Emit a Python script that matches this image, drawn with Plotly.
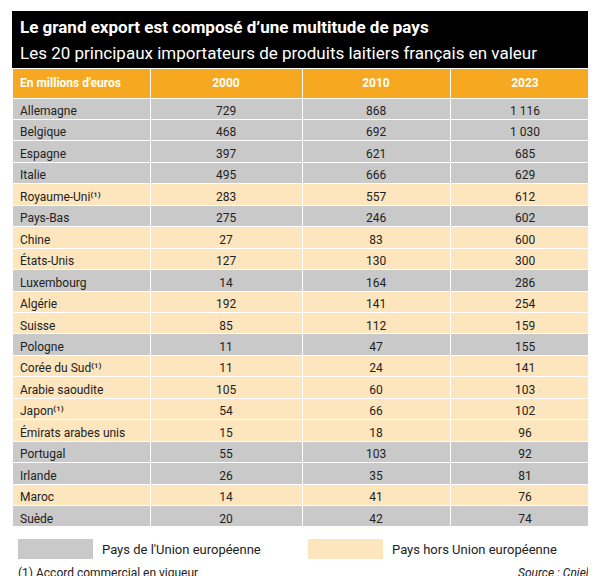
import plotly.graph_objects as go

countries = ["Allemagne","Belgique","Espagne","Italie","Royaume-Uni⁽¹⁾","Pays-Bas","Chine","États-Unis",
             "Luxembourg","Algérie","Suisse","Pologne","Corée du Sud⁽¹⁾","Arabie saoudite","Japon⁽¹⁾",
             "Émirats arabes unis","Portugal","Irlande","Maroc","Suède"]
eu = [1,1,1,1,0,1,0,0,1,0,0,1,0,0,0,0,1,1,0,1]
v2000 = ["729","468","397","495","283","275","27","127","14","192","85","11","11","105","54","15","55","26","14","20"]
v2010 = ["868","692","621","666","557","246","83","130","164","141","112","47","24","60","66","18","103","35","41","42"]
v2023 = ["1 116","1 030","685","629","612","602","600","300","286","254","159","155","141","103","102","96","92","81","76","74"]
headers = ["<b>En millions d'euros</b>","<b>2000</b>","<b>2010</b>","<b>2023</b>"]

GREY = "#c9c9c9"; BEIGE = "#fde5bd"; ORANGE = "#f6a821"
fills = [GREY if e else BEIGE for e in eu]
W, H = 596, 576
FONT = "Roboto, Arial"

fig = go.Figure(go.Table(
    domain=dict(x=[4/W, 592/W], y=[0, 1-60/H]),
    columnwidth=[138, 152, 148, 150],
    header=dict(values=headers, fill_color=ORANGE, height=28,
                align=["left","center","center","center"],
                font=dict(family=FONT, size=12, color="white"),
                line=dict(color="white", width=1)),
    cells=dict(values=[countries, v2000, v2010, v2023], fill_color=[fills]*4,
               height=21.45, align=["left","center","center","center"],
               font=dict(family=FONT, size=12, color="#222"),
               line=dict(color="white", width=1))))

fig.add_shape(type="rect", xref="paper", yref="paper", x0=4/W, x1=592/W, y0=1-60/H, y1=1-3/H,
              fillcolor="black", line_width=0, layer="below")
fig.add_annotation(text="<b>Le grand export est composé d’une multitude de pays</b>", x=10/W, y=1-19/H,
                   xref="paper", yref="paper", xanchor="left", yanchor="middle", showarrow=False,
                   font=dict(family=FONT, size=17, color="white"))
fig.add_annotation(text="Les 20 principaux importateurs de produits laitiers français en valeur", x=10/W, y=1-45/H,
                   xref="paper", yref="paper", xanchor="left", yanchor="middle", showarrow=False,
                   font=dict(family=FONT, size=17, color="white"))
for x0, c, t in [(10, GREY, "Pays de l'Union européenne"), (300, BEIGE, "Pays hors Union européenne")]:
    fig.add_shape(type="rect", xref="paper", yref="paper", x0=x0/W, x1=(x0+75)/W, y0=1-551/H, y1=1-531/H,
                  fillcolor=c, line_width=0)
    fig.add_annotation(text=t, x=(x0+82)/W, y=1-541/H, xref="paper", yref="paper", xanchor="left",
                       yanchor="middle", showarrow=False, font=dict(family="Roboto", size=13, color="#222"))
fig.add_annotation(text="(1) Accord commercial en vigueur", x=8/W, y=1-565/H, xref="paper", yref="paper",
                   xanchor="left", yanchor="middle", showarrow=False, font=dict(family="Roboto", size=12, color="#222"))
fig.add_annotation(text="<i>Source : Cniel</i>", x=583/W, y=1-565/H, xref="paper", yref="paper",
                   xanchor="right", yanchor="middle", showarrow=False, font=dict(family="Roboto", size=12, color="#222"))
fig.update_layout(width=W, height=H, margin=dict(l=0, r=0, t=0, b=0), paper_bgcolor="white")
fig.write_html("out.html")
